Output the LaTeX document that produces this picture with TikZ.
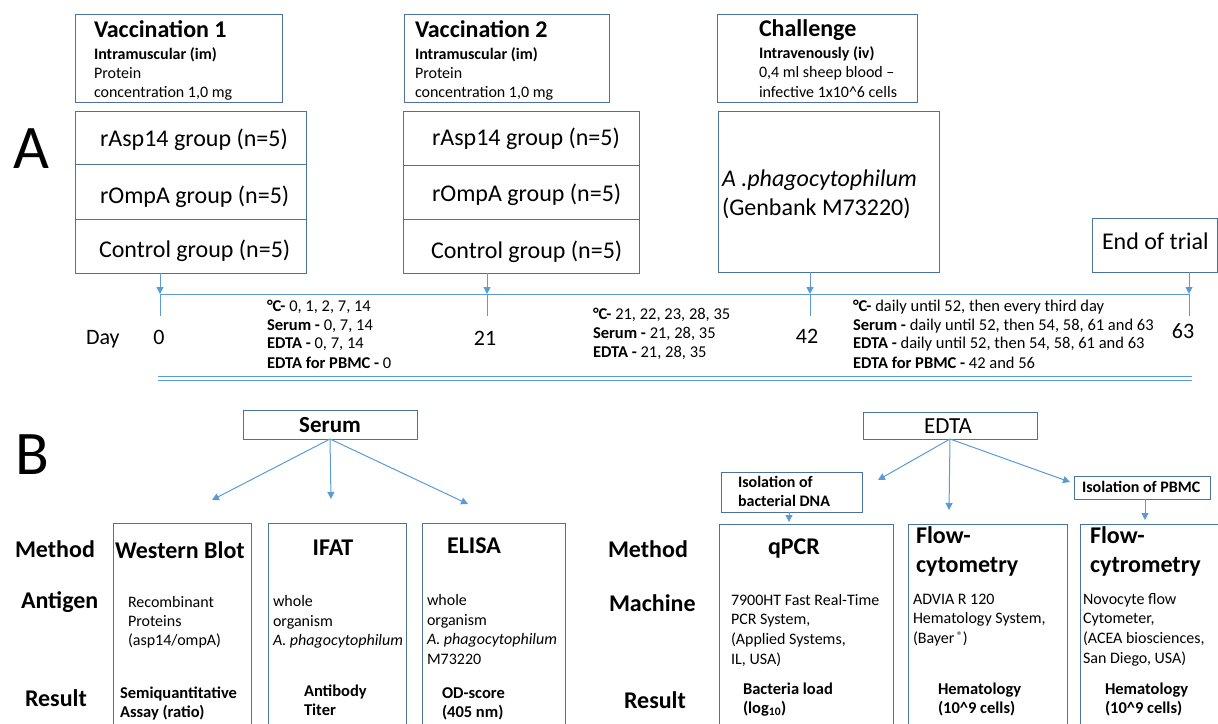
\documentclass[tikz,border=0pt]{standalone}
\usepackage{fontspec}
\setmainfont{Carlito}
\usetikzlibrary{arrows.meta,calc}
\definecolor{boxc}{HTML}{4A72A0}
\definecolor{linec}{HTML}{5B9BD5}
\tikzset{
  box/.style={draw=boxc,line width=0.9pt,inner sep=0,outer sep=0,anchor=north west},
  lbl/.style={anchor=base west,inner sep=0,outer sep=0},
  lblc/.style={anchor=base,inner sep=0,outer sep=0},
  bigl/.style={font=\fontsize{62}{62}\selectfont},
  ttl/.style={font=\fontsize{24}{28}\selectfont\bfseries},
  sm/.style={font=\fontsize{16}{19}\selectfont},
  smb/.style={font=\fontsize{16}{19}\selectfont\bfseries},
  grp/.style={font=\fontsize{24}{28}\selectfont},
  tln/.style={font=\fontsize{16.5}{19}\selectfont},
  dayn/.style={font=\fontsize{22}{26}\selectfont},
  hd/.style={font=\fontsize{24}{28}\selectfont\bfseries},
  res/.style={font=\fontsize{16.5}{19}\selectfont\bfseries},
  tl/.style={draw=linec,line width=1pt},
  arr/.style={draw=linec,line width=1pt,-{Triangle[length=7pt,width=7pt]}},
}
\begin{document}
\begin{tikzpicture}[x=1pt,y=-1pt]
\useasboundingbox (0,0) rectangle (1218,723);
% ---------------- Part A ----------------
\node[lbl,bigl] (labA) at (13,168) {A};
% Vaccination 1
\node[box,minimum width=207,minimum height=88] (v1) at (75,14) {};
\node[lbl,ttl] (v1t) at (94,37) {Vaccination 1};
\node[lbl,smb] (v1a) at (94,59) {Intramuscular (im)};
\node[lbl,sm] (v1b) at (94,78) {Protein};
\node[lbl,sm] (v1c) at (94,97) {concentration 1,0 mg};
\node[box,minimum width=231,minimum height=53] (g1a) at (75,111) {};
\node[box,minimum width=231,minimum height=55] (g1b) at (75,164) {};
\node[box,minimum width=231,minimum height=54] (g1c) at (75,219) {};
\node[lbl,grp] (g1at) at (100,146) {rAsp14 group (n=5)};
\node[lbl,grp] (g1bt) at (100,203) {rOmpA group (n=5)};
\node[lbl,grp] (g1ct) at (99,257) {Control group (n=5)};
% Vaccination 2
\node[box,minimum width=205,minimum height=88] (v2) at (404,14) {};
\node[lbl,ttl] (v2t) at (415,37) {Vaccination 2};
\node[lbl,smb] (v2a) at (415,59) {Intramuscular (im)};
\node[lbl,sm] (v2b) at (415,78) {Protein};
\node[lbl,sm] (v2c) at (415,97) {concentration 1,0 mg};
\node[box,minimum width=236,minimum height=54] (g2a) at (403,111) {};
\node[box,minimum width=236,minimum height=54] (g2b) at (403,165) {};
\node[box,minimum width=236,minimum height=54] (g2c) at (403,219) {};
\node[lbl,grp] (g2at) at (432,145) {rAsp14 group (n=5)};
\node[lbl,grp] (g2bt) at (432,201) {rOmpA group (n=5)};
\node[lbl,grp] (g2ct) at (431,258) {Control group (n=5)};
% Challenge
\node[box,minimum width=200,minimum height=88] (ch) at (717,14) {};
\node[lbl,ttl] (cht) at (759,36) {Challenge};
\node[lbl,smb] (cha) at (759,58) {Intravenously (iv)};
\node[lbl,sm] (chb) at (759,77) {0,4 ml sheep blood --};
\node[lbl,sm] (chc) at (759,97) {infective 1x10\textasciicircum 6 cells};
\node[box,minimum width=221,minimum height=161] (chg) at (718,111) {};
\node[lbl,grp] (chgt1) at (722,186) {\itshape A .phagocytophilum};
\node[lbl,grp] (chgt2) at (722,215) {(Genbank M73220)};
% End of trial
\node[box,minimum width=125,minimum height=54] (eot) at (1092,218) {};
\node[lbl,grp] (eott) at (1102,249) {End of trial};
% timeline
\coordinate (d0) at (160,294);
\coordinate (d0e) at (160,316);
\coordinate (d21) at (487,294);
\coordinate (d21e) at (487,316);
\coordinate (d42) at (810,294);
\coordinate (d42e) at (810,316);
\coordinate (d63) at (1189,294);
\coordinate (d63e) at (1189,316);
\draw[tl] (d0) -- (d63);
\draw[arr] (d0 |- g1c.south) -- (d0);
\draw[arr] (d21 |- g2c.south) -- (d21);
\draw[arr] (d42 |- chg.south) -- (d42);
\draw[arr] (d63 |- eot.south) -- (d63);
\draw[tl] (d0) -- (d0e);
\draw[tl] (d21) -- (d21e);
\draw[tl] (d42) -- (d42e);
\draw[tl] (d63) -- (d63e);
\node[lbl,dayn] (day) at (86,344) {Day};
\node[lblc,dayn] (n0) at (159,344) {0};
\node[lblc,dayn] (n21) at (485,345) {21};
\node[lblc,dayn] (n42) at (807,343) {42};
\node[lblc,dayn] (n63) at (1183,338) {63};
\node[lbl,tln] (ta1) at (267,311) {\textbf{°C-} 0, 1, 2, 7, 14};
\node[lbl,tln] (ta2) at (267,330) {\textbf{Serum -} 0, 7, 14};
\node[lbl,tln] (ta3) at (267,348) {\textbf{EDTA -} 0, 7, 14};
\node[lbl,tln] (ta4) at (267,368) {\textbf{EDTA for PBMC -} 0};
\node[lbl,tln] (tb1) at (593,319) {\textbf{°C-} 21, 22, 23, 28, 35};
\node[lbl,tln] (tb2) at (593,338) {\textbf{Serum -} 21, 28, 35};
\node[lbl,tln] (tb3) at (593,357) {\textbf{EDTA -} 21, 28, 35};
\node[lbl,tln] (tc1) at (853,311) {\textbf{°C-} daily until 52, then every third day};
\node[lbl,tln] (tc2) at (853,330) {\textbf{Serum -} daily until 52, then 54, 58, 61 and 63};
\node[lbl,tln] (tc3) at (853,348) {\textbf{EDTA -} daily until 52, then 54, 58, 61 and 63};
\node[lbl,tln] (tc4) at (853,368) {\textbf{EDTA for PBMC -} 42 and 56};
\coordinate (sepL) at (158,378.5);
\coordinate (sepR) at (1192,378.5);
\draw[draw=linec,line width=1pt,double=white,double distance=2.4pt] (sepL) -- (sepR);
% ---------------- Part B ----------------
\node[lbl,bigl] (labB) at (15,474) {B};
\node[box,minimum width=174,minimum height=29] (serum) at (243,410) {};
\node[lblc,font=\fontsize{23}{27}\selectfont\bfseries] (serumt) at (330,432) {Serum};
\node[box,minimum width=174,minimum height=27] (edta) at (863,412) {};
\node[lblc,font=\fontsize{23}{27}\selectfont] (edtat) at (948,433) {EDTA};
\coordinate (sA) at (212,500);
\coordinate (sB) at (331,499);
\coordinate (sC) at (468,504);
\draw[arr] (serum.south) -- (sA);
\draw[arr] (serum.south) -- (sB);
\draw[arr] (serum.south) -- (sC);
\coordinate (eA) at (878,480);
\coordinate (eB) at (949,510);
\coordinate (eC) at (1070,482);
\draw[arr] (edta.south) -- (eA);
\draw[arr] (edta.south) -- (eB);
\draw[arr] (edta.south) -- (eC);
% isolation boxes
\node[box,minimum width=141,minimum height=40] (dna) at (721,472) {};
\node[lbl,smb] (dna1) at (738,487) {Isolation of};
\node[lbl,smb] (dna2) at (738,506) {bacterial DNA};
\node[box,minimum width=136,minimum height=23] (pbmc) at (1074,476) {};
\node[lbl,smb] (pbmct) at (1082,492) {Isolation of PBMC};
% column boxes
\node[box,minimum width=138,minimum height=210] (wb) at (113,523) {};
\node[box,minimum width=138,minimum height=210] (ifat) at (268,523) {};
\node[box,minimum width=143,minimum height=210] (elisa) at (422,523) {};
\node[box,minimum width=174,minimum height=210] (qpcr) at (719,524) {};
\node[box,minimum width=159,minimum height=210] (flow1) at (908,524) {};
\node[box,minimum width=150,minimum height=210] (flow2) at (1080,524) {};
\coordinate (dnaT) at (789,522);
\coordinate (pbT) at (1145,520);
\draw[arr] (dnaT |- dna.south) -- (dnaT);
\draw[arr] (pbT |- pbmc.south) -- (pbT);
% row labels
\node[lbl,hd] (m1) at (15,557) {Method};
\node[lbl,hd] (a1) at (21,608) {Antigen};
\node[lbl,hd] (r1) at (25,706) {Result};
\node[lbl,hd] (m2) at (608,557) {Method};
\node[lbl,hd] (a2) at (609,611) {Machine};
\node[lbl,hd] (r2) at (624,708) {Result};
% column titles
\node[lbl,hd] (wbt) at (115,558) {Western Blot};
\node[lblc,hd] (ifatt) at (333,555) {IFAT};
\node[lblc,hd] (elisat) at (474,553) {ELISA};
\node[lblc,hd] (qpcrt) at (794,554) {qPCR};
\node[lbl,hd] (f1a) at (916,543) {Flow-};
\node[lbl,hd] (f1b) at (916,572) {cytometry};
\node[lbl,hd] (f2a) at (1090,543) {Flow-};
\node[lbl,hd] (f2b) at (1090,572) {cytrometry};
% antigen / machine texts
\node[lbl,sm] (wb1) at (128,607) {Recombinant};
\node[lbl,sm] (wb2) at (128,626) {Proteins};
\node[lbl,sm] (wb3) at (128,645) {(asp14/ompA)};
\node[lbl,sm] (if1) at (273,606) {whole};
\node[lbl,sm] (if2) at (273,626) {organism};
\node[lbl,sm] (if3) at (273,645) {\itshape A. phagocytophilum};
\node[lbl,sm] (el1) at (427,605) {whole};
\node[lbl,sm] (el2) at (427,625) {organism};
\node[lbl,sm] (el3) at (427,644) {\itshape A. phagocytophilum};
\node[lbl,sm] (el4) at (427,664) {M73220};
\node[lbl,sm] (qp1) at (731,605) {7900HT Fast Real-Time};
\node[lbl,sm] (qp2) at (731,624) {PCR System,};
\node[lbl,sm] (qp3) at (731,644) {(Applied Systems,};
\node[lbl,sm] (qp4) at (731,664) {IL, USA)};
\node[lbl,sm] (fa1) at (913,604) {ADVIA R 120};
\node[lbl,sm] (fa2) at (913,623) {Hematology System,};
\node[lbl,sm] (fa3) at (913,643) {(Bayer\,\raisebox{4pt}{\fontsize{11}{11}\selectfont ®})};
\node[lbl,sm] (fb1) at (1083,604) {Novocyte flow};
\node[lbl,sm] (fb2) at (1083,623) {Cytometer,};
\node[lbl,sm] (fb3) at (1083,643) {(ACEA biosciences,};
\node[lbl,sm] (fb4) at (1083,663) {San Diego, USA)};
% results
\node[lbl,res] (wr1) at (120,698) {Semiquantitative};
\node[lbl,res] (wr2) at (120,717) {Assay (ratio)};
\node[lbl,res] (ir1) at (304,696) {Antibody};
\node[lbl,res] (ir2) at (304,715) {Titer};
\node[lbl,res] (er1) at (442,698) {OD-score};
\node[lbl,res] (er2) at (442,717) {(405 nm)};
\node[lbl,res] (qr1) at (743,694) {Bacteria load};
\node[lbl,res] (qr2) at (743,713) {(log\textsubscript{10})};
\node[lbl,res] (f1r1) at (938,694) {Hematology};
\node[lbl,res] (f1r2) at (938,713) {(10\textasciicircum 9 cells)};
\node[lbl,res] (f2r1) at (1105,694) {Hematology};
\node[lbl,res] (f2r2) at (1105,713) {(10\textasciicircum 9 cells)};
\end{tikzpicture}
\end{document}
